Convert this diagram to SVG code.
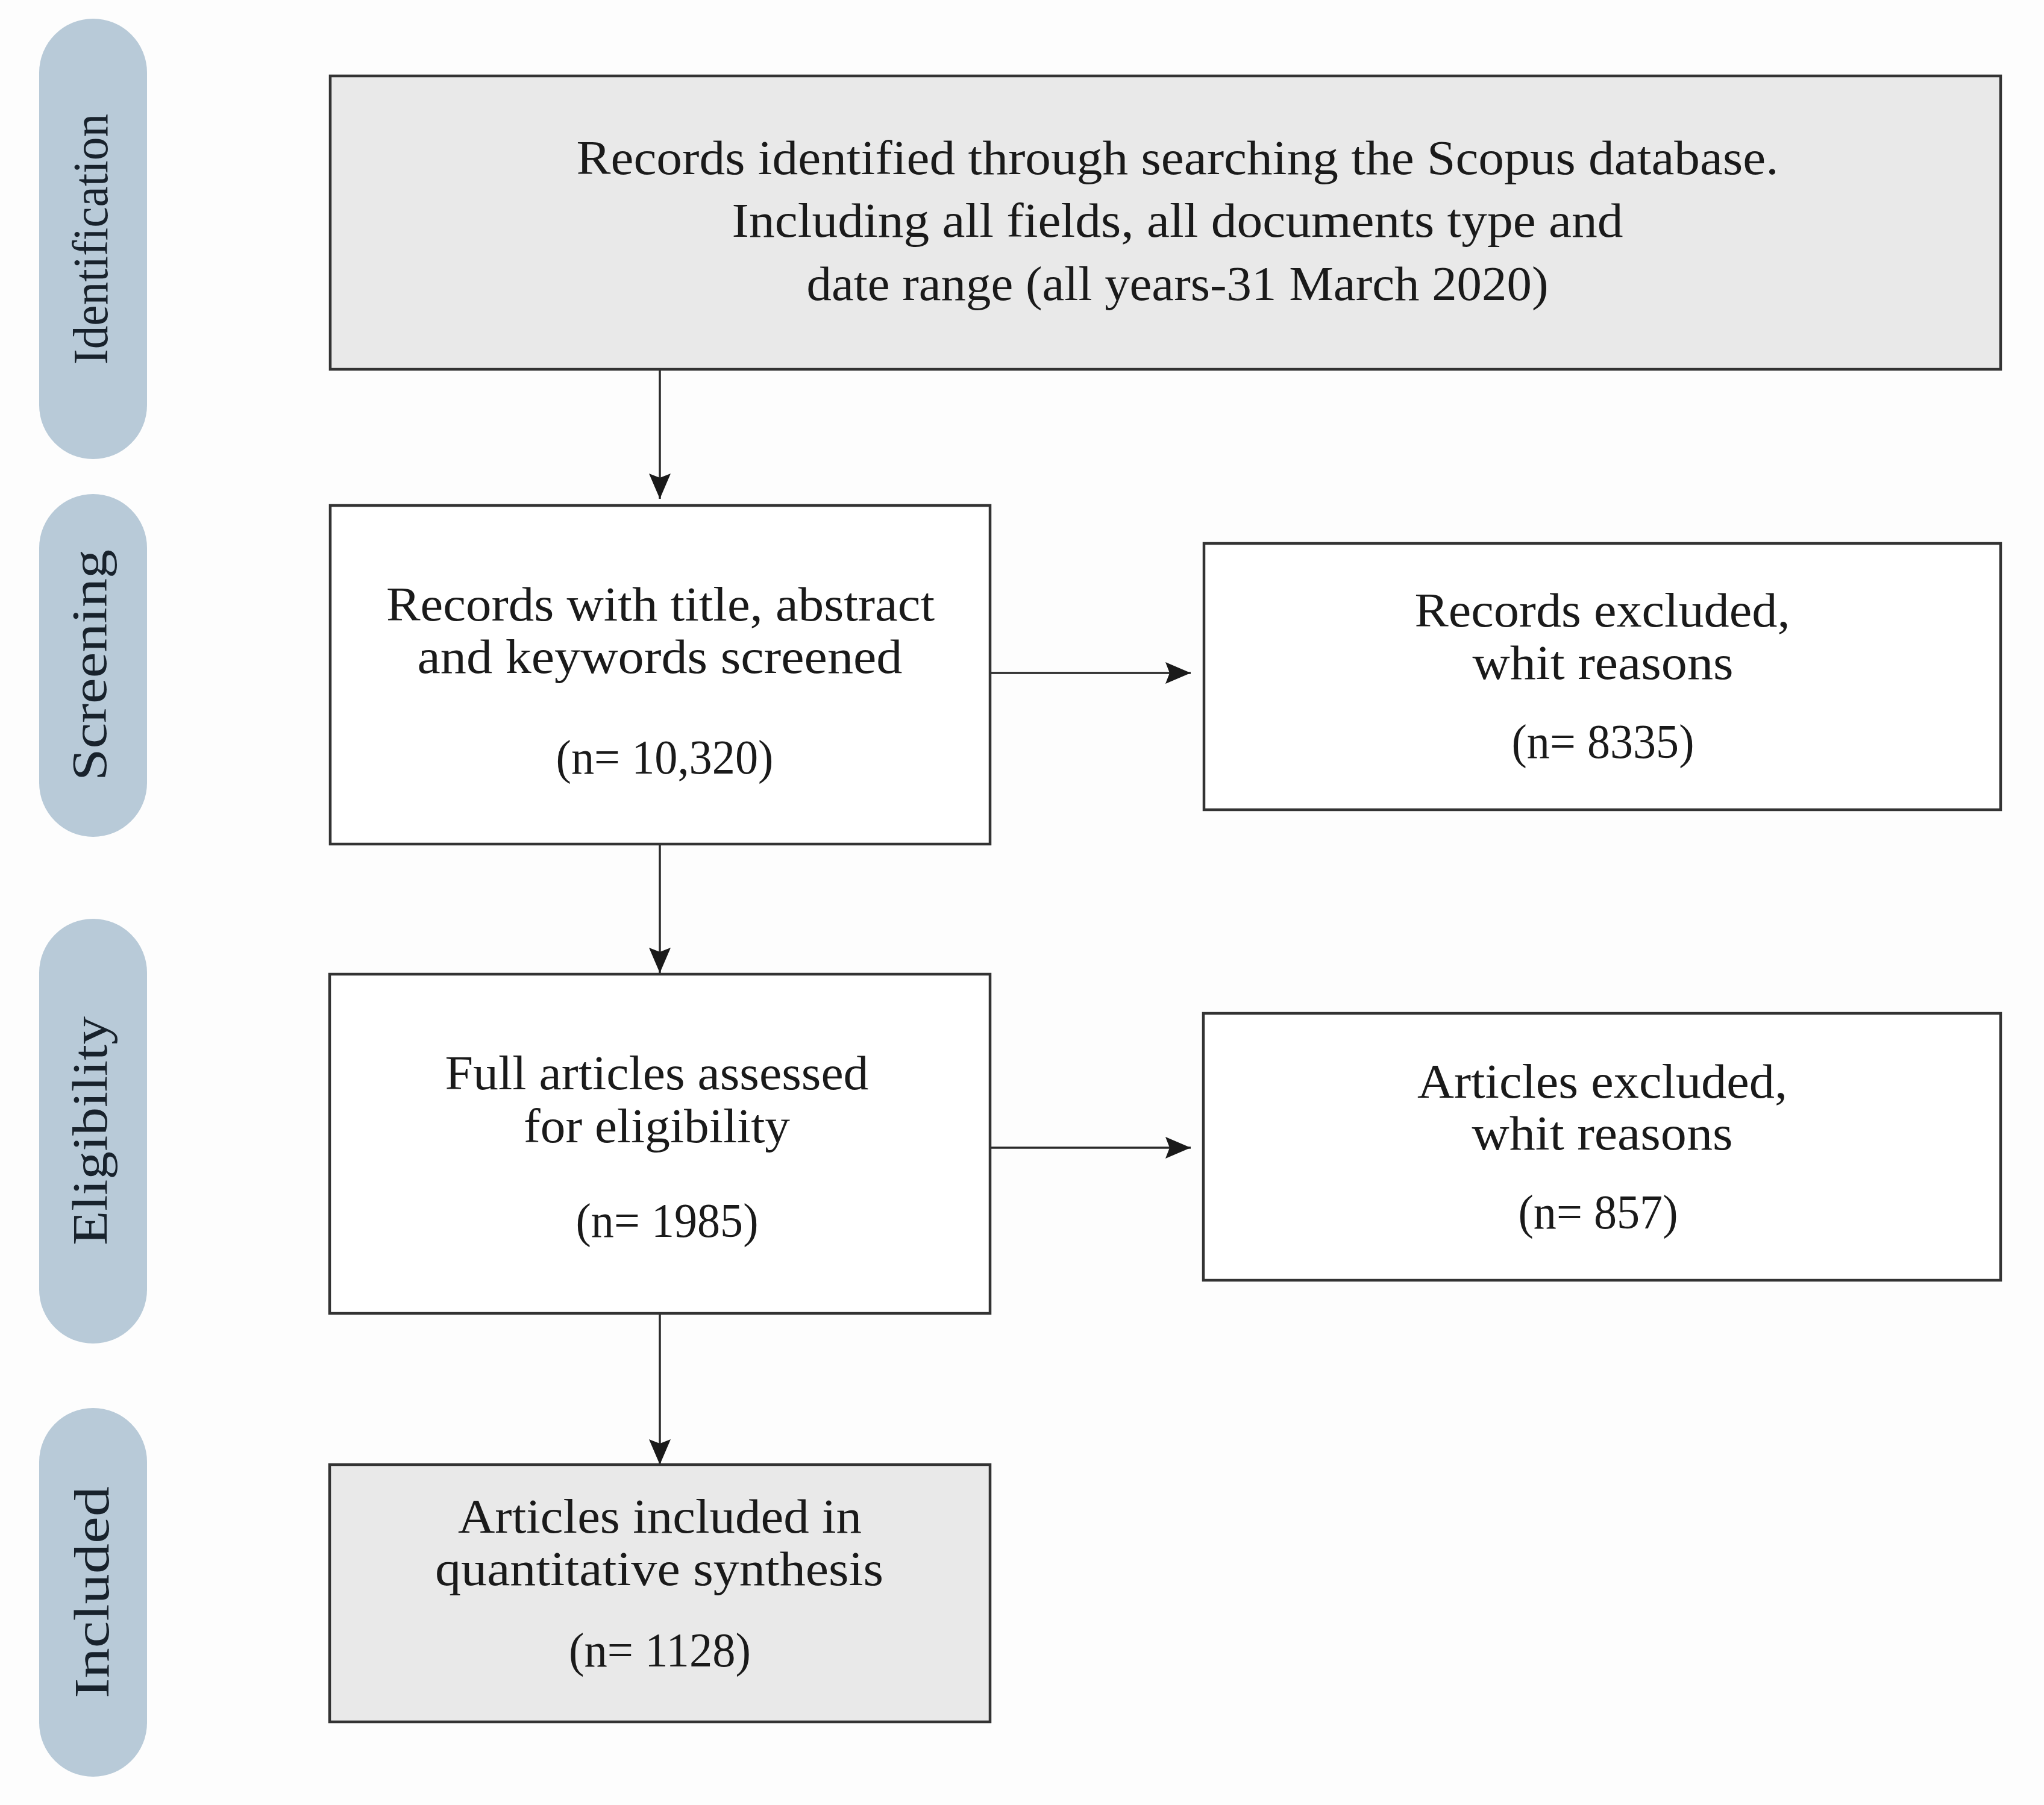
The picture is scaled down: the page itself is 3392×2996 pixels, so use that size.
<svg xmlns="http://www.w3.org/2000/svg" width="3392" height="2996" viewBox="0 0 3392 2996">
<style>
.bg{fill:#fdfdfd}
.pill{fill:#b8cad8}
.box{fill:#ffffff;stroke:#333333;stroke-width:4.5}
.gray{fill:#e9e9e9}
.t{font-family:"Palatino Linotype","Book Antiqua",Palatino,"Liberation Serif",serif;font-size:80px;fill:#1a1a1a;text-anchor:middle}
.pt{font-family:"Palatino Linotype","Book Antiqua",Palatino,"Liberation Serif",serif;font-size:82px;fill:#18222c;text-anchor:middle}
.c{stroke:#2a2a2a;stroke-width:3.5;fill:none}
</style>
<defs>
<marker id="ah" markerUnits="userSpaceOnUse" markerWidth="46" markerHeight="40" refX="42" refY="18" orient="auto" viewBox="0 0 46 40">
<path d="M0,0 L42,18 L0,36 L7,18 Z" fill="#1a1a1a"/>
</marker>
</defs>
<rect class="bg" x="0" y="0" width="3392" height="2996"/>

<g id="stage-identification">
<rect class="pill" x="65" y="31" width="179" height="731" rx="89.5"/>
<text class="pt" transform="translate(178,397) rotate(-90)" textLength="416" lengthAdjust="spacingAndGlyphs">Identification</text>
</g>
<g id="stage-screening">
<rect class="pill" x="65" y="820" width="179" height="569" rx="89.5"/>
<text class="pt" transform="translate(176,1104) rotate(-90)" textLength="384" lengthAdjust="spacingAndGlyphs">Screening</text>
</g>
<g id="stage-eligibility">
<rect class="pill" x="65" y="1525" width="179" height="705" rx="89.5"/>
<text class="pt" transform="translate(177,1877) rotate(-90)" textLength="380" lengthAdjust="spacingAndGlyphs">Eligibility</text>
</g>
<g id="stage-included">
<rect class="pill" x="65" y="2337" width="179" height="612" rx="89.5"/>
<text class="pt" transform="translate(180,2643) rotate(-90)" textLength="352" lengthAdjust="spacingAndGlyphs">Included</text>
</g>

<g id="connectors">
<line class="c" x1="1095" y1="613" x2="1095" y2="828" marker-end="url(#ah)"/>
<line class="c" x1="1095" y1="1401" x2="1095" y2="1615" marker-end="url(#ah)"/>
<line class="c" x1="1095" y1="2180" x2="1095" y2="2431" marker-end="url(#ah)"/>
<line class="c" x1="1643" y1="1117" x2="1976" y2="1117" marker-end="url(#ah)"/>
<line class="c" x1="1643" y1="1905" x2="1976" y2="1905" marker-end="url(#ah)"/>
</g>

<g id="records-identified">
<rect class="box gray" x="548" y="126" width="2772" height="487"/>
<text class="t" x="1954" y="289" textLength="1995" lengthAdjust="spacingAndGlyphs">Records identified through searching the Scopus database.</text>
<text class="t" x="1954" y="393" textLength="1479" lengthAdjust="spacingAndGlyphs">Including all fields, all documents type and</text>
<text class="t" x="1954" y="498" textLength="1231" lengthAdjust="spacingAndGlyphs">date range (all years-31 March 2020)</text>
</g>

<g id="records-screened">
<rect class="box" x="548" y="839" width="1095" height="562"/>
<text class="t" x="1096" y="1030" textLength="910" lengthAdjust="spacingAndGlyphs">Records with title, abstract</text>
<text class="t" x="1095" y="1117" textLength="805" lengthAdjust="spacingAndGlyphs">and keywords screened</text>
<text class="t" x="1103" y="1284" textLength="361" lengthAdjust="spacingAndGlyphs">(n= 10,320)</text>
</g>

<g id="records-excluded">
<rect class="box" x="1998" y="902" width="1322" height="442"/>
<text class="t" x="2659" y="1040" textLength="623" lengthAdjust="spacingAndGlyphs">Records excluded,</text>
<text class="t" x="2660" y="1127" textLength="433" lengthAdjust="spacingAndGlyphs">whit reasons</text>
<text class="t" x="2660" y="1258" textLength="303" lengthAdjust="spacingAndGlyphs">(n= 8335)</text>
</g>

<g id="full-articles">
<rect class="box" x="547" y="1617" width="1096" height="563"/>
<text class="t" x="1090" y="1808" textLength="703" lengthAdjust="spacingAndGlyphs">Full articles assessed</text>
<text class="t" x="1090" y="1896" textLength="442" lengthAdjust="spacingAndGlyphs">for eligibility</text>
<text class="t" x="1107" y="2053" textLength="303" lengthAdjust="spacingAndGlyphs">(n= 1985)</text>
</g>

<g id="articles-excluded">
<rect class="box" x="1997" y="1682" width="1323" height="443"/>
<text class="t" x="2659" y="1822" textLength="614" lengthAdjust="spacingAndGlyphs">Articles excluded,</text>
<text class="t" x="2659" y="1908" textLength="433" lengthAdjust="spacingAndGlyphs">whit reasons</text>
<text class="t" x="2652" y="2039" textLength="265" lengthAdjust="spacingAndGlyphs">(n= 857)</text>
</g>

<g id="articles-included">
<rect class="box gray" x="547" y="2431" width="1096" height="427"/>
<text class="t" x="1095" y="2544" textLength="670" lengthAdjust="spacingAndGlyphs">Articles included in</text>
<text class="t" x="1094" y="2631" textLength="744" lengthAdjust="spacingAndGlyphs">quantitative synthesis</text>
<text class="t" x="1095" y="2766" textLength="302" lengthAdjust="spacingAndGlyphs">(n= 1128)</text>
</g>
</svg>
